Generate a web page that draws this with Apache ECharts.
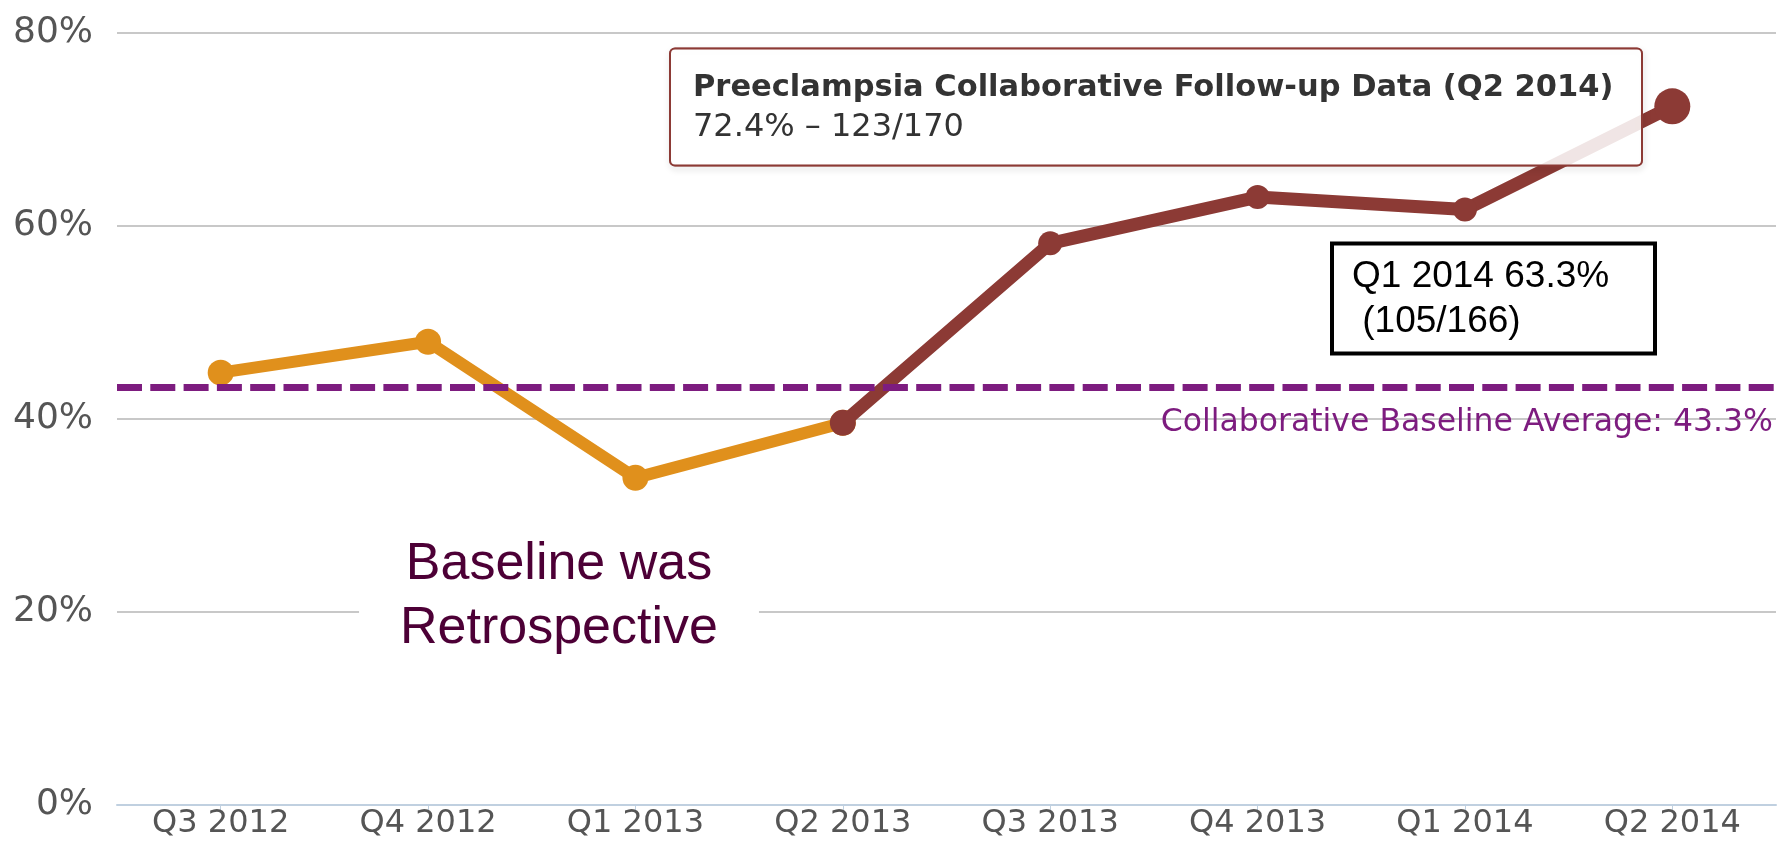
<!DOCTYPE html>
<html>
<head>
<meta charset="utf-8">
<script src="https://cdn.jsdelivr.net/npm/echarts@6/dist/echarts.min.js"></script>
<style>
html,body{margin:0;padding:0;background:#fff;}
#chart{width:1790px;height:845px;}
</style>
</head>
<body>
<div id="chart"></div>
<script>
const categories = ['Q3 2012','Q4 2012','Q1 2013','Q2 2013','Q3 2013','Q4 2013','Q1 2014','Q2 2014'];
const baselineValues = [44.8, 48.0, 33.9, 39.6, null, null, null, null];
const followupValues = [null, null, null, 39.6, 58.2, 63.0, 61.7, 72.4];
const followupSymbolSizes = [0, 0, 0, 26, 24, 24, 24, 36];
const yTicks = [0, 20, 40, 60, 80];
const baselineAverage = 43.3;
const baselineAverageLabel = 'Collaborative Baseline Average: 43.3%';
const tooltipTitle = 'Preeclampsia Collaborative Follow-up Data (Q2 2014)';
const tooltipLine = '72.4% \u2013 123/170';
const q1Note = 'Q1 2014 63.3%\n (105/166)';
const retroNote = 'Baseline was\nRetrospective';

const ORANGE = '#E0901C';
const BROWN = '#8C3A35';
const PURPLE = '#7D1C7F';

const chart = echarts.init(document.getElementById('chart'), null, {renderer: 'canvas'});
chart.setOption({
  backgroundColor: '#ffffff',
  animation: false,
  grid: {left: 117, right: 14, top: 33, bottom: 40, containLabel: false},
  xAxis: {
    type: 'category',
    data: categories,
    boundaryGap: true,
    axisLine: {show: true, lineStyle: {color: '#C0D0E0', width: 2}},
    axisTick: {show: true, alignWithLabel: true, length: 8, lineStyle: {color: '#C0D0E0', width: 1}},
    axisLabel: {color: '#555555', fontFamily: 'DejaVu Sans', fontSize: 32, margin: 3},
    splitLine: {show: false}
  },
  yAxis: {
    type: 'value',
    min: yTicks[0],
    max: yTicks[yTicks.length - 1],
    interval: 20,
    axisLine: {show: false},
    axisTick: {show: false},
    axisLabel: {color: '#555555', fontFamily: 'DejaVu Sans', fontSize: 36, margin: 24,
      formatter: v => v + '%', padding: [0, 0, 10, 0]},
    splitLine: {show: true, lineStyle: {color: '#C8C8C8', width: 2}}
  },
  series: [
    {
      name: 'Baseline',
      type: 'line',
      data: baselineValues,
      connectNulls: false,
      symbol: 'circle',
      symbolSize: 26,
      lineStyle: {color: ORANGE, width: 12},
      itemStyle: {color: ORANGE},
      z: 2,
      markLine: {
        silent: true,
        symbol: ['none', 'none'],
        data: [{yAxis: baselineAverage}],
        lineStyle: {color: PURPLE, width: 7, type: [25, 8.3]},
        label: {
          show: true,
          position: 'insideEndBottom',
          formatter: baselineAverageLabel,
          color: PURPLE,
          fontFamily: 'DejaVu Sans',
          fontSize: 31.5,
          distance: [3, 20]
        }
      }
    },
    {
      name: 'Follow-up',
      type: 'line',
      data: followupValues,
      connectNulls: false,
      symbol: 'circle',
      symbolSize: (v, p) => followupSymbolSizes[p.dataIndex],
      lineStyle: {color: BROWN, width: 13},
      itemStyle: {color: BROWN},
      z: 3
    }
  ],
  graphic: [
    {
      type: 'text',
      x: 559, y: 597,
      z: 10,
      style: {
        text: retroNote,
        fill: '#4D0036',
        fontFamily: 'Liberation Sans',
        fontSize: 52,
        lineHeight: 64,
        align: 'center',
        verticalAlign: 'middle',
        backgroundColor: '#ffffff',
        padding: [4, 41, 4, 41]
      }
    },
    {
      type: 'rect',
      z: 10,
      shape: {x: 1332, y: 243.5, width: 323, height: 110},
      style: {fill: '#ffffff', stroke: '#000000', lineWidth: 4}
    },
    {
      type: 'text',
      z: 11,
      x: 1352, y: 299.5,
      style: {
        text: q1Note,
        fill: '#000000',
        fontFamily: 'Liberation Sans',
        fontSize: 37,
        lineHeight: 45,
        align: 'left',
        verticalAlign: 'middle'
      }
    },
    {
      type: 'rect',
      z: 19,
      shape: {x: 670, y: 48.5, width: 972, height: 117, r: 5},
      style: {
        fill: 'none', stroke: 'rgba(140,58,53,0.6)', lineWidth: 2,
        shadowBlur: 6, shadowOffsetX: 1, shadowOffsetY: 3, shadowColor: 'rgba(0,0,0,0.35)'
      }
    },
    {
      type: 'rect',
      z: 20,
      shape: {x: 670, y: 48.5, width: 972, height: 117, r: 5},
      style: {
        fill: 'rgba(255,255,255,0.87)', stroke: BROWN, lineWidth: 2
      }
    },
    {
      type: 'text',
      z: 21,
      x: 693, y: 88,
      style: {
        text: tooltipTitle,
        fill: '#333333',
        fontFamily: 'DejaVu Sans',
        fontWeight: 'bold',
        fontSize: 30.5,
        verticalAlign: 'middle'
      }
    },
    {
      type: 'text',
      z: 21,
      x: 693, y: 128,
      style: {
        text: tooltipLine,
        fill: '#333333',
        fontFamily: 'DejaVu Sans',
        fontSize: 32,
        verticalAlign: 'middle'
      }
    }
  ]
});
</script>
</body>
</html>
